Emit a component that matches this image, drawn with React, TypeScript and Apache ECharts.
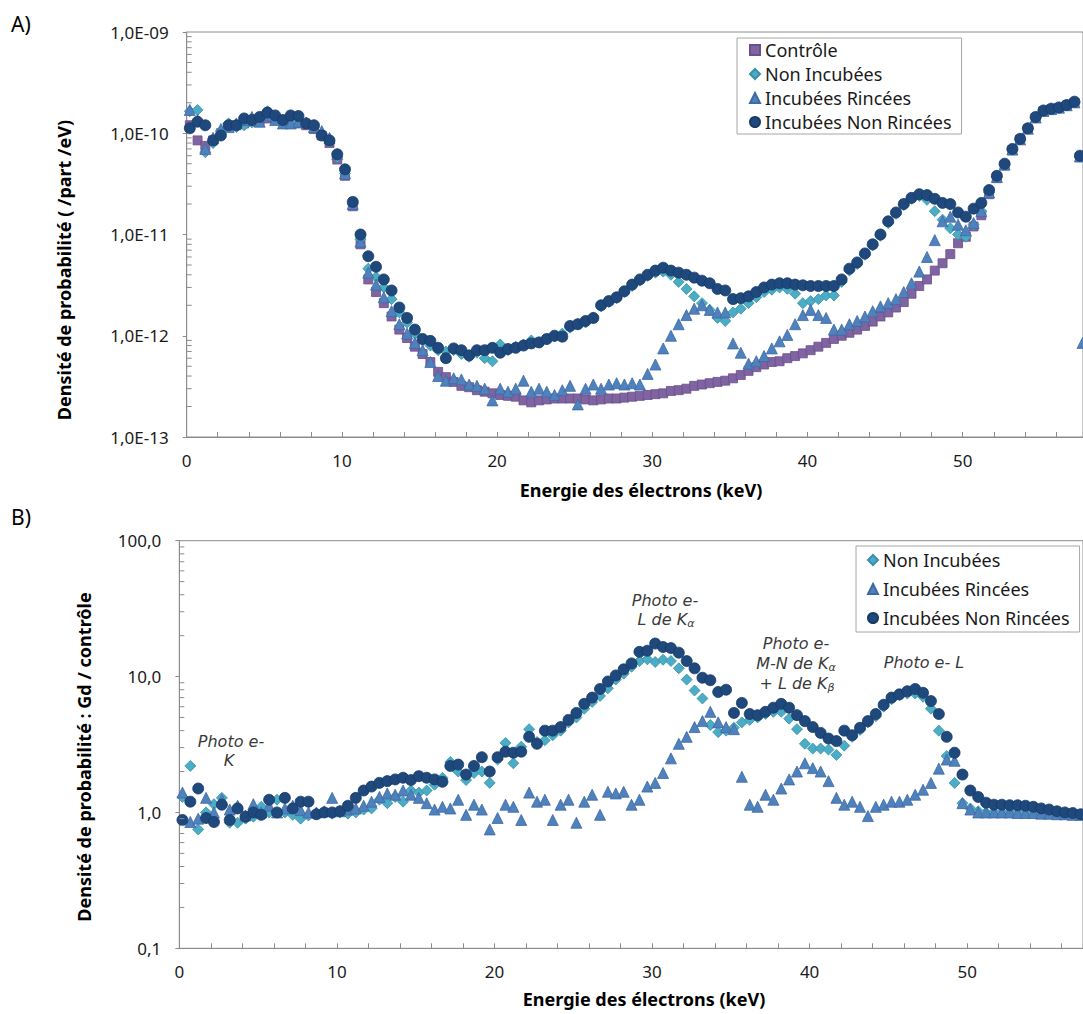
import React, { useEffect, useRef } from "react";
import * as echarts from "echarts";

// ---------- DATA ----------
// Electron energy (keV) of the bins shared by all series
const energies = [
  0.2, 0.7, 1.2, 1.7, 2.2, 2.7, 3.2, 3.7, 4.2, 4.7,
  5.2, 5.7, 6.2, 6.7, 7.2, 7.7, 8.2, 8.7, 9.2, 9.7,
  10.2, 10.7, 11.2, 11.7, 12.2, 12.7, 13.2, 13.7, 14.2, 14.7,
  15.2, 15.7, 16.2, 16.7, 17.2, 17.7, 18.2, 18.7, 19.2, 19.7,
  20.2, 20.7, 21.2, 21.7, 22.2, 22.7, 23.2, 23.7, 24.2, 24.7,
  25.2, 25.7, 26.2, 26.7, 27.2, 27.7, 28.2, 28.7, 29.2, 29.7,
  30.2, 30.7, 31.2, 31.7, 32.2, 32.7, 33.2, 33.7, 34.2, 34.7,
  35.2, 35.7, 36.2, 36.7, 37.2, 37.7, 38.2, 38.7, 39.2, 39.7,
  40.2, 40.7, 41.2, 41.7, 42.2, 42.7, 43.2, 43.7, 44.2, 44.7,
  45.2, 45.7, 46.2, 46.7, 47.2, 47.7, 48.2, 48.7, 49.2, 49.7,
  50.2, 50.7, 51.2, 51.7, 52.2, 52.7, 53.2, 53.7, 54.2, 54.7,
  55.2, 55.7, 56.2, 56.7, 57.2,
];
// last bins of panel A (energy, keV)
const tailEnergiesA = [57.55, 57.72];

// Panel A: probability density, in units of 1e-12 /part/eV
const UNIT_A = 1e-12;
const controleA = [
  120, 85, 75, 85, 100, 115, 120, 125, 130, 135,
  140, 140, 135, 135, 125, 120, 110, 95, 80, 55,
  38, 19, 8, 3.6, 2.7, 2.1, 1.55, 1.15, 0.95, 0.78,
  0.66, 0.55, 0.44, 0.39, 0.35, 0.32, 0.31, 0.29, 0.28, 0.27,
  0.26, 0.255, 0.25, 0.23, 0.22, 0.23, 0.235, 0.24, 0.24, 0.24,
  0.24, 0.235, 0.23, 0.235, 0.24, 0.24, 0.245, 0.25, 0.255, 0.26,
  0.265, 0.27, 0.285, 0.29, 0.3, 0.32, 0.33, 0.34, 0.35, 0.36,
  0.38, 0.41, 0.45, 0.49, 0.52, 0.55, 0.56, 0.6, 0.63, 0.67,
  0.72, 0.78, 0.85, 0.93, 1.0, 1.07, 1.15, 1.25, 1.38, 1.55,
  1.7, 1.9, 2.15, 2.6, 3.1, 3.6, 4.4, 5.2, 6.4, 8.2,
  9.5, 12, 15.5, 25, 36, 48, 68, 86, 110, 142,
  165, 172, 178, 188, 200,
];
const controleTailA = [58, null];

const nonIncA = [
  165, 170, 65, 80, 105, 125, 115, 120, 128, 140,
  165, 145, 130, 130, 135, 125, 115, 100, 82, 58,
  40, 20, 9, 4.6, 3.8, 3.0, 2.3, 1.7, 1.35, 1.05,
  0.9, 0.8, 0.72, 0.7, 0.72, 0.66, 0.62, 0.68, 0.6, 0.56,
  0.82, 0.72, 0.78, 0.82, 0.9, 0.86, 0.92, 0.98, 1.05, 1.2,
  1.3, 1.35, 1.5, 1.95, 2.15, 2.35, 2.7, 3.1, 3.5, 3.9,
  4.2, 4.3, 4.0, 3.4, 2.9, 2.45, 2.1, 1.8, 1.5, 1.4,
  1.7, 1.85, 2.1, 2.4, 2.7, 2.85, 3.0, 2.9, 2.6, 2.1,
  2.2, 2.3, 2.5, 2.5, 3.4, 4.4, 5.1, 6.3, 7.8, 9.7,
  13, 16, 19.5, 22.5, 24, 22, 17, 14, 11.5, 10,
  9.5, 12.5, 17, 26, 37, 49, 69, 87, 111, 143,
  166, 173, 179, 189, 202,
];
const nonIncTailA = [59, null];

const incRinA = [
  170, 135, 70, 90, 110, 115, 125, 135, 145, 130,
  150, 135, 125, 125, 130, 128, 115, 105, 90, 62,
  40, 20, 8.5, 4.2, 3.2, 2.4, 1.75, 1.3, 1.05, 0.85,
  0.72, 0.55, 0.4, 0.36, 0.38, 0.37, 0.33, 0.32, 0.3, 0.23,
  0.3, 0.28, 0.3, 0.36, 0.28, 0.3, 0.28, 0.26, 0.29, 0.32,
  0.21, 0.3, 0.33, 0.3, 0.33, 0.34, 0.33, 0.34, 0.33, 0.42,
  0.52, 0.75, 1.0, 1.3, 1.6, 1.85, 2.0, 1.8, 1.7, 1.7,
  0.84, 0.68, 0.53, 0.56, 0.63, 0.75, 0.88, 1.02, 1.3, 1.6,
  1.8, 1.6, 1.5, 1.15, 1.15, 1.3, 1.4, 1.55, 1.75, 1.95,
  2.1, 2.3, 2.7, 3.3, 4.3, 6, 8.8, 13.5, 15, 12.5,
  11, 13, 17, 26, 37, 49, 69, 87, 111, 143,
  166, 173, 179, 189, 202,
];
const incRinTailA = [59, 0.85];

const incNonRinA = [
  112, 130, 120, 85, 95, 120, 120, 140, 135, 145,
  160, 150, 135, 150, 148, 125, 120, 95, 85, 62,
  44, 21, 10, 6.1, 4.8, 3.6, 2.8, 1.9, 1.5, 1.15,
  0.93, 0.89, 0.76, 0.6, 0.75, 0.72, 0.64, 0.72, 0.72, 0.76,
  0.68, 0.74, 0.76, 0.8, 0.84, 0.86, 0.93, 1.0, 0.98, 1.25,
  1.3, 1.4, 1.5, 2.0, 2.2, 2.4, 2.75, 3.2, 3.6, 4.0,
  4.4, 4.7, 4.4, 4.2, 4.0, 3.75, 3.5, 3.3, 2.9, 2.8,
  2.3, 2.35, 2.45, 2.7, 3.0, 3.2, 3.3, 3.3, 3.2, 3.15,
  3.1, 3.1, 3.1, 3.1, 3.6, 4.6, 5.3, 6.5, 8.0, 10,
  13.5, 16.5, 20, 23, 25, 24.5, 22.5, 20.5, 20, 16.5,
  15, 18, 20.5, 27.5, 38, 50, 70, 88, 112, 145,
  168, 175, 180, 190, 205,
];
const incNonRinTailA = [60, null];

// Panel B: ratio Gd / contrôle
const nonIncB = [
  1.3, 2.2, 0.75, 1.0, 1.15, 1.28, 0.84, 0.84, 0.9, 0.93,
  1.1, 1.0, 1.24, 1.0, 0.96, 0.9, 0.95, 0.97, 1.0, 0.98,
  1.0, 0.98, 1.0, 1.05, 1.07, 1.24, 1.17, 1.3, 1.2, 1.45,
  1.4, 1.45, 1.6, 1.8, 2.35, 2.0, 1.73, 1.95, 2.0, 1.65,
  2.45, 3.25, 2.3, 3.05, 4.1, 3.3, 3.4, 3.7, 4.0, 4.6,
  5.0, 5.8, 6.5, 7.2, 8.2, 9.5, 10.5, 11.8, 13.0, 13.4,
  12.8, 13.3, 13.0, 11.5, 9.5, 7.9, 6.9, 4.4, 3.9, 4.0,
  4.2, 4.6, 4.8, 5.0, 5.3, 5.5, 5.5, 4.9, 4.1, 3.2,
  2.95, 2.95, 2.9, 2.65, 3.1, 3.6, 4.05, 4.6, 5.1, 6.0,
  6.8, 7.3, 7.5, 7.5, 7.1, 5.8, 4.0, 2.6, 1.65, 1.17,
  1.07, 1.02, 1.0, 1.0, 1.0, 1.0, 1.0, 1.0, 0.99, 0.99,
  0.98, 0.98, 0.97, 0.97, 0.96,
];
const incRinB = [
  1.4, 0.85, 0.9, 1.28, 1.0, 1.24, 1.05, 1.12, 0.95, 1.15,
  1.0, 1.12, 1.0, 1.07, 1.12, 1.04, 1.0, 1.0, 1.02, 1.28,
  1.02, 1.05, 1.07, 1.12, 1.2, 1.3, 1.38, 1.35, 1.45, 1.35,
  1.28, 1.17, 1.05, 1.1, 1.07, 1.24, 0.96, 1.14, 1.05, 0.75,
  0.91, 1.14, 1.1, 0.88, 1.4, 1.2, 1.24, 0.88, 1.14, 1.24,
  0.84, 1.2, 1.35, 0.96, 1.42, 1.38, 1.42, 1.14, 1.24, 1.55,
  1.65, 1.95, 2.5, 3.2, 3.6, 4.25, 4.7, 5.5, 4.6, 4.25,
  4.1, 1.83, 1.14, 1.1, 1.35, 1.24, 1.5, 1.75, 2.0, 2.3,
  2.12, 2.0, 1.7, 1.28, 1.14, 1.2, 1.1, 0.94, 1.1, 1.14,
  1.2, 1.2, 1.24, 1.35, 1.47, 1.65, 2.1, 2.45, 2.4, 1.17,
  1.05, 1.0, 1.0, 1.0, 1.0, 1.0, 0.99, 0.99, 0.99, 0.98,
  0.98, 0.97, 0.97, 0.96, 0.96,
];
const incNonRinB = [
  0.88, 1.2, 1.5, 0.91, 0.85, 1.14, 0.88, 1.07, 0.93, 1.0,
  0.96, 1.24, 1.0, 1.28, 1.07, 1.2, 1.2, 0.97, 1.0, 1.0,
  1.02, 1.12, 1.28, 1.45, 1.55, 1.65, 1.7, 1.75, 1.8, 1.73,
  1.85, 1.8, 1.75, 1.68, 2.2, 2.25, 1.9, 2.2, 2.55, 2.0,
  2.55, 2.8, 2.75, 2.8, 3.6, 3.2, 4.0, 4.0, 4.25, 4.8,
  5.4, 6.3, 7.0, 8.1, 9.2, 10.2, 11.3, 12.5, 15.2, 15.5,
  17.5, 16.5, 16.2, 15.0, 13.0, 11.5, 9.8, 9.4, 7.7, 8.0,
  5.4, 6.4, 5.3, 5.2, 5.5, 5.9, 6.3, 5.9, 5.2, 4.7,
  4.25, 3.85, 3.5, 3.35, 4.0, 3.7, 4.2, 4.7, 5.3, 6.2,
  7.0, 7.4, 7.8, 8.1, 7.6, 6.6, 5.3, 3.6, 2.75, 1.9,
  1.45, 1.3, 1.18, 1.14, 1.14, 1.13, 1.13, 1.12, 1.1, 1.07,
  1.05, 1.02, 1.0, 0.99, 0.97,
];

const namesA = ["Contrôle", "Non Incubées", "Incubées Rincées", "Incubées Non Rincées"];
const namesB = ["Non Incubées", "Incubées Rincées", "Incubées Non Rincées"];
const xTicksLabelStep = 10;

// ---------- STYLE ----------
const AX = "#8c8c8c";
const TXT = "#1a1a1a";
const FONT = "Noto Sans";
const ANN_FONT = "DejaVu Sans";
const ANN_COLOR = "#3a3a3a";

const STY: Record<string, any> = {
  "Contrôle": { symbol: "rect", size: 9, color: "#8064A2", border: "#6a4f8c" },
  "Non Incubées": { symbol: "diamond", size: 11, color: "#4BACC6", border: "#3a90a8" },
  "Incubées Rincées": { symbol: "triangle", size: 11, color: "#4F81BD", border: "#3d6aa3" },
  "Incubées Non Rincées": { symbol: "circle", size: 11, color: "#1F497D", border: "#173a66" },
};

function pairs(xs: number[], vals: (number | null)[], unit: number) {
  const out: number[][] = [];
  xs.forEach((x, i) => {
    const v = vals[i];
    if (v != null) out.push([x, v * unit]);
  });
  return out;
}

function scatter(name: string, data: number[][], gi: number) {
  const s = STY[name];
  return {
    name,
    type: "scatter",
    xAxisIndex: gi,
    yAxisIndex: gi,
    symbol: s.symbol,
    symbolSize: s.size,
    itemStyle: { color: s.color, borderColor: s.border, borderWidth: 0.8, opacity: 1 },
    data,
    z: 3,
  };
}

const minorMult = [2, 3, 4, 5, 6, 7, 8, 9];
const decadesA = [1e-13, 1e-12, 1e-11, 1e-10];
const decadesB = [0.1, 1, 10];
const minorA = decadesA.flatMap((d) => minorMult.map((m) => m * d));
const minorB = decadesB.flatMap((d) => minorMult.map((m) => m * d));

function minorTickSeries(vals: number[], gi: number) {
  return {
    type: "custom",
    xAxisIndex: gi,
    yAxisIndex: gi,
    silent: true,
    z: 4,
    data: vals.map((v) => [0, v]),
    renderItem: (_p: any, api: any) => {
      const p = api.coord([0, api.value(1)]);
      return {
        type: "line",
        shape: { x1: p[0], y1: p[1], x2: p[0] + 5, y2: p[1] },
        style: { stroke: AX, lineWidth: 1 },
      };
    },
  };
}

function xAxis(gi: number, max: number) {
  return {
    type: "value",
    gridIndex: gi,
    min: 0,
    max,
    interval: xTicksLabelStep,
    axisLine: { show: true, lineStyle: { color: AX, width: 1 } },
    axisTick: { show: true, inside: true, length: 5, lineStyle: { color: AX } },
    minorTick: { show: true, splitNumber: 5, length: 5, lineStyle: { color: AX } },
    axisLabel: { fontSize: 17, color: TXT, fontFamily: FONT, margin: 15, showMaxLabel: false },
    splitLine: { show: false },
    minorSplitLine: { show: false },
  };
}

function yAxis(gi: number, min: number, max: number, formatter: (v: number) => string) {
  return {
    type: "log",
    logBase: 10,
    gridIndex: gi,
    min,
    max,
    axisLine: { show: true, lineStyle: { color: AX, width: 1 } },
    axisTick: { show: true, inside: false, length: 4, lineStyle: { color: AX } },
    axisLabel: { fontSize: 17, color: TXT, fontFamily: FONT, margin: 18, formatter },
    splitLine: { show: false },
  };
}

function legend(data: string[], left: number, top: number, lineH: number, gap: number, pad: number[]) {
  return {
    data,
    left,
    top,
    orient: "vertical",
    selectedMode: false,
    itemWidth: 10,
    itemHeight: 10,
    itemGap: gap,
    padding: pad,
    borderColor: "#a6a6a6",
    borderWidth: 1,
    backgroundColor: "#fff",
    textStyle: { fontSize: 18, color: TXT, fontFamily: FONT, lineHeight: lineH },
  };
}

function txt(x: number, y: number, text: string, extra: any = {}, rotation = 0) {
  return {
    type: "text",
    x,
    y,
    rotation,
    z: 10,
    style: {
      text,
      align: "center",
      verticalAlign: "middle",
      fontFamily: FONT,
      fontSize: 16,
      fill: TXT,
      ...extra,
    },
  };
}

const annStyle = { fontFamily: ANN_FONT, fontSize: 16, fontStyle: "italic", fill: ANN_COLOR };
const richAnn = {
  m: { fontFamily: ANN_FONT, fontSize: 16, fontStyle: "italic", fill: ANN_COLOR, lineHeight: 20, verticalAlign: "middle" },
  s: { fontFamily: ANN_FONT, fontSize: 11, fontStyle: "italic", fill: ANN_COLOR, lineHeight: 20, verticalAlign: "bottom" },
};
function richTxt(x: number, y: number, text: string) {
  return {
    type: "text",
    x,
    y,
    z: 10,
    style: { text, align: "center", verticalAlign: "middle", rich: richAnn, ...annStyle },
  };
}

const fmtA = (v: number) => {
  const e = Math.round(Math.log10(v));
  return "1,0E-" + String(-e).padStart(2, "0");
};
const fmtB = (v: number) => v.toFixed(1).replace(".", ",");

const titleStyle = { fontWeight: "bold", fontSize: 18, fill: "#000" };

export default function App() {
  const ref = useRef<HTMLDivElement>(null);
  useEffect(() => {
    if (!ref.current) return;
    const chart = echarts.init(ref.current, null, { renderer: "svg" });
    const xsA = [...energies, ...tailEnergiesA];
    const option: any = {
      animation: false,
      backgroundColor: "#ffffff",
      grid: [
        { left: 186.7, top: 32, width: 897, height: 405, show: true, borderColor: AX, borderWidth: 1, backgroundColor: "transparent" },
        { left: 179.3, top: 540.7, width: 905, height: 407.6, show: true, borderColor: AX, borderWidth: 1, backgroundColor: "transparent" },
      ],
      xAxis: [xAxis(0, 57.75), xAxis(1, 57.35)],
      yAxis: [yAxis(0, 1e-13, 1e-9, fmtA), yAxis(1, 0.1, 100, fmtB)],
      legend: [
        legend(namesA, 737, 38, 20, 4, [2, 10, 2, 12]),
        legend(namesB, 856, 546, 22, 7, [3, 10, 3, 11]),
      ],
      series: [
        scatter("Contrôle", pairs(xsA, [...controleA, ...controleTailA], UNIT_A), 0),
        scatter("Non Incubées", pairs(xsA, [...nonIncA, ...nonIncTailA], UNIT_A), 0),
        scatter("Incubées Rincées", pairs(xsA, [...incRinA, ...incRinTailA], UNIT_A), 0),
        scatter("Incubées Non Rincées", pairs(xsA, [...incNonRinA, ...incNonRinTailA], UNIT_A), 0),
        scatter("Non Incubées", pairs(energies, nonIncB, 1), 1),
        scatter("Incubées Rincées", pairs(energies, incRinB, 1), 1),
        scatter("Incubées Non Rincées", pairs(energies, incNonRinB, 1), 1),
        minorTickSeries(minorA, 0),
        minorTickSeries(minorB, 1),
      ],
      graphic: [
        txt(11, 24, "A)", { align: "left", fontSize: 21, fill: "#000" }),
        txt(11, 517, "B)", { align: "left", fontSize: 21, fill: "#000" }),
        txt(641, 490, "Energie des électrons (keV)", titleStyle),
        txt(644, 999, "Energie des électrons (keV)", titleStyle),
        txt(64, 270, "Densité de probabilité ( /part /eV)", titleStyle, Math.PI / 2),
        txt(84, 757, "Densité de probabilité : Gd / contrôle", titleStyle, Math.PI / 2),
        txt(231, 741, "Photo e-", annStyle),
        txt(229, 760, "K", annStyle),
        txt(665, 600, "Photo e-", annStyle),
        richTxt(666, 619, "{m|L de K}{s|α}"),
        txt(796, 643, "Photo e-", annStyle),
        richTxt(796, 663, "{m|M-N de K}{s|α}"),
        richTxt(797, 683, "{m|+ L de K}{s|β}"),
        txt(924, 662, "Photo e- L", annStyle),
      ],
    };
    chart.setOption(option);
    return () => chart.dispose();
  }, []);
  return (
    <div
      ref={ref}
      style={{ position: "absolute", left: 0, top: 0, width: 1083, height: 1014, overflow: "hidden", background: "#fff" }}
    />
  );
}
